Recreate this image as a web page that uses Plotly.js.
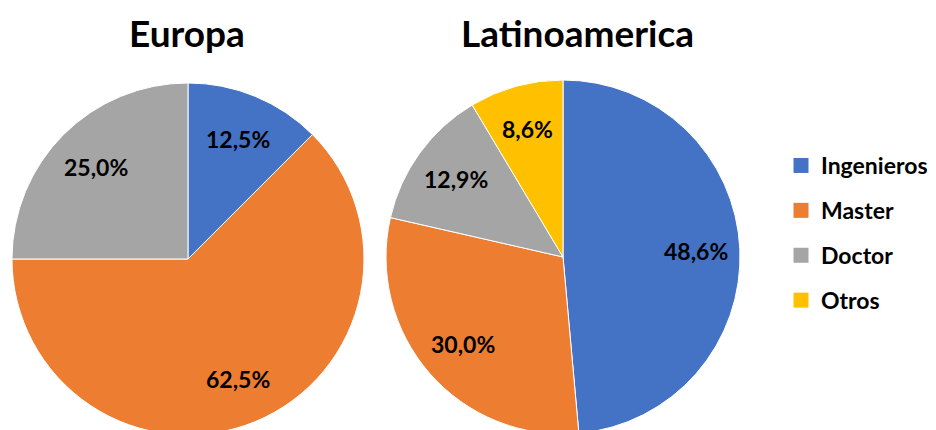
<!DOCTYPE html>
<html>
<head>
<meta charset="utf-8">
<script src="https://cdn.plot.ly/plotly-3.0.1.min.js"></script>
<style>
html,body{margin:0;padding:0;background:#fff;overflow:hidden;}
#chart{width:936px;height:440px;}
</style>
</head>
<body>
<div id="chart"></div>
<script>
// Data
const categories = ['Ingenieros', 'Master', 'Doctor', 'Otros'];
const colors = ['#4472C4', '#ED7D31', '#A5A5A5', '#FFC000'];
const europaLabels = ['Ingenieros', 'Master', 'Doctor'];
const europaValues = [1, 5, 2];          // 12,5% / 62,5% / 25,0%
const latamLabels = ['Ingenieros', 'Master', 'Doctor', 'Otros'];
const latamValues = [34, 21, 9, 6];      // 48,6% / 30,0% / 12,9% / 8,6%
const titles = ['Europa', 'Latinoamerica'];

const W = 936, H = 440;
const FONT = 'Lato, "Open Sans", "DejaVu Sans", sans-serif';
const colorOf = l => colors[categories.indexOf(l)];

const domains = [
  {x: [0.0128, 0.3889], y: [0.0114, 0.8114]},
  {x: [0.4124, 0.7906], y: [0.0136, 0.8182]}
];

function pie(labels, values, domain) {
  return {
    type: 'pie',
    labels: labels,
    values: values,
    sort: false,
    direction: 'clockwise',
    rotation: 0,
    domain: domain,
    marker: {colors: labels.map(colorOf), line: {color: '#ffffff', width: 1}},
    textinfo: 'none',
    hoverinfo: 'label+percent',
    showlegend: false
  };
}

// percentage labels placed along each slice's bisector (data-driven)
function sliceLabels(values, domain, k) {
  const total = values.reduce((a, b) => a + b, 0);
  const cx = (domain.x[0] + domain.x[1]) / 2;
  const cy = (domain.y[0] + domain.y[1]) / 2;
  const rpx = Math.min((domain.x[1] - domain.x[0]) * W, (domain.y[1] - domain.y[0]) * H) / 2;
  let cum = 0;
  return values.map(v => {
    const theta = (cum + v / 2) / total * 2 * Math.PI;
    cum += v;
    return {
      text: (v / total * 100).toFixed(1).replace('.', ',') + '%',
      x: cx + k * rpx * Math.sin(theta) / W,
      y: cy + k * rpx * Math.cos(theta) / H,
      xref: 'paper', yref: 'paper', xanchor: 'center', yanchor: 'middle',
      showarrow: false,
      font: {family: FONT, size: 23, color: '#000000', weight: 'bold'}
    };
  });
}

const traces = [
  pie(europaLabels, europaValues, domains[0]),
  pie(latamLabels, latamValues, domains[1])
];

// legend entries
categories.forEach((c, i) => {
  traces.push({
    type: 'scatter', mode: 'markers', x: [null], y: [null],
    name: c, legendgroup: c,
    marker: {symbol: 'square', size: 15, color: colors[i]},
    showlegend: true, hoverinfo: 'skip'
  });
});

const titleAnn = (t, xpx) => ({
  text: t, x: xpx / W, y: 1 - 32 / H, xref: 'paper', yref: 'paper',
  xanchor: 'center', yanchor: 'middle', showarrow: false,
  font: {family: FONT, size: 37, color: '#000000', weight: 'bold'}
});

const layout = {
  width: W, height: H,
  margin: {l: 0, r: 0, t: 0, b: 0},
  paper_bgcolor: '#ffffff', plot_bgcolor: '#ffffff',
  font: {family: FONT, color: '#000000'},
  xaxis: {visible: false}, yaxis: {visible: false},
  showlegend: true,
  legend: {
    x: 781 / W, y: 1 - 144 / H, xanchor: 'left', yanchor: 'top',
    font: {family: FONT, size: 23, color: '#000000', weight: 'bold'},
    tracegroupgap: 12, itemwidth: 30, bgcolor: 'rgba(0,0,0,0)'
  },
  annotations: [
    titleAnn(titles[0], 187),
    titleAnn(titles[1], 577),
    ...sliceLabels(europaValues, domains[0], 0.74),
    ...sliceLabels(latamValues, domains[1], 0.75)
  ]
};

Plotly.newPlot('chart', traces, layout, {displayModeBar: false, staticPlot: true});
</script>
</body>
</html>
